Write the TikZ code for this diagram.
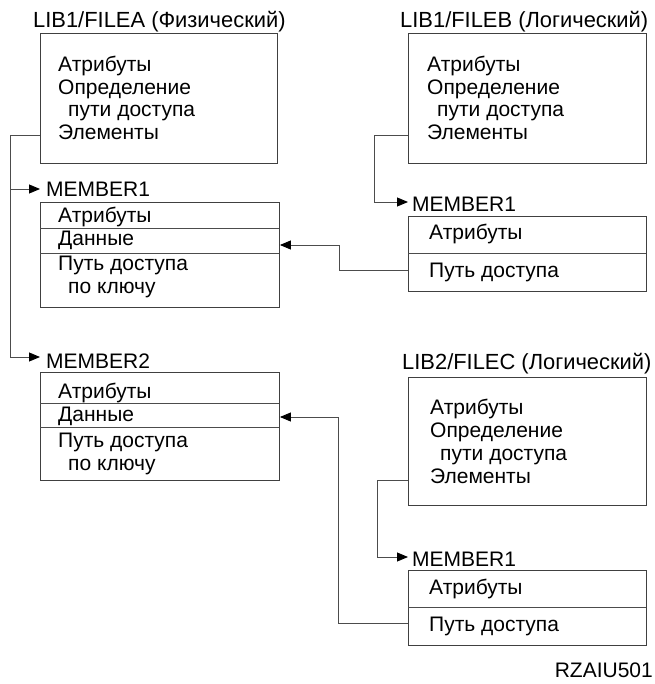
\documentclass[tikz,border=0pt]{standalone}
\usepackage{fontspec}
\setmainfont{Liberation Sans}
\usetikzlibrary{arrows.meta,calc}
\begin{document}
\begin{tikzpicture}[x=1pt,y=-1pt,
  box/.style={draw=black!75,line width=0.9pt,anchor=north west,inner sep=0pt},
  lbl/.style={anchor=base west,inner sep=0pt,font=\fontsize{21}{22}\selectfont},
  ttl/.style={anchor=base west,inner sep=0pt,font=\fontsize{21.9}{22}\selectfont},
  conn/.style={draw=black!70,line width=0.9pt},
  arr/.style={conn,-{Triangle[length=11pt,width=9pt,fill=black,color=black]}}]
\useasboundingbox (0,0) rectangle (654,684);
% ---- FILEA
\node[ttl] (tA) at (33,28) {LIB1/FILEA (Физический)};
\node[box,minimum width=237pt,minimum height=130pt] (A) at (40,33) {};
\node[lbl] (a1) at (58,72) {Атрибуты};
\node[lbl] (a2) at (58,94.5) {Определение};
\node[lbl] (a3) at (68,117) {пути доступа};
\node[lbl] (a4) at (58,140) {Элементы};
% ---- MEMBER1 of FILEA
\node[lbl] (mA1) at (46,197) {MEMBER1};
\node[box,minimum width=239pt,minimum height=105pt] (M1) at (40,202) {};
\draw[conn] (40,228) -- (279,228);
\draw[conn] (40,253) -- (279,253);
\node[lbl] (m1a) at (58,223) {Атрибуты};
\node[lbl] (m1b) at (58,246) {Данные};
\node[lbl] (m1c) at (58,270) {Путь доступа};
\node[lbl] (m1d) at (68,293) {по ключу};
% ---- MEMBER2 of FILEA
\node[lbl] (mA2) at (46,368) {MEMBER2};
\node[box,minimum width=239pt,minimum height=108pt] (M2) at (40,372) {};
\draw[conn] (40,403) -- (279,403);
\draw[conn] (40,427) -- (279,427);
\node[lbl] (m2a) at (58,398) {Атрибуты};
\node[lbl] (m2b) at (58,421.5) {Данные};
\node[lbl] (m2c) at (58,447) {Путь доступа};
\node[lbl] (m2d) at (68,470) {по ключу};
% ---- FILEB
\node[ttl] (tB) at (400,28) {LIB1/FILEB (Логический)};
\node[box,minimum width=238pt,minimum height=130pt] (B) at (408,33) {};
\node[lbl] (b1) at (427,72) {Атрибуты};
\node[lbl] (b2) at (427,94.5) {Определение};
\node[lbl] (b3) at (437,117) {пути доступа};
\node[lbl] (b4) at (427,140) {Элементы};
% ---- MEMBER1 of FILEB
\node[lbl] (mB) at (412,211.5) {MEMBER1};
\node[box,minimum width=238pt,minimum height=75pt] (MB) at (408,216) {};
\draw[conn] (408,253) -- (646,253);
\node[lbl] (mba) at (429,240) {Атрибуты};
\node[lbl] (mbb) at (429,277) {Путь доступа};
% ---- FILEC
\node[ttl] (tC) at (402,369) {LIB2/FILEC (Логический)};
\node[box,minimum width=238pt,minimum height=128pt] (C) at (408,377) {};
\node[lbl] (c1) at (430,414) {Атрибуты};
\node[lbl] (c2) at (430,437) {Определение};
\node[lbl] (c3) at (440,460) {пути доступа};
\node[lbl] (c4) at (430,483) {Элементы};
% ---- MEMBER1 of FILEC
\node[lbl] (mC) at (412,566.5) {MEMBER1};
\node[box,minimum width=238pt,minimum height=75pt] (MC) at (408,570) {};
\draw[conn] (408,607) -- (646,607);
\node[lbl] (mca) at (429,594) {Атрибуты};
\node[lbl] (mcb) at (429,631.5) {Путь доступа};
% ---- footer
\node[anchor=base east,inner sep=0pt,font=\fontsize{21}{22}\selectfont] (rz) at (653,677) {RZAIU501};
% ---- connectors
\coordinate (jA) at (10,135);
\draw[conn] (A.west |- 0,135) -- (jA) -- (10,357);
\draw[arr] (10,189) -- (M1.north west |- 0,189);
\draw[arr] (10,357) -- (M2.north west |- 0,357);
\draw[conn] (B.west |- 0,135) -- (374,135) -- (374,202);
\draw[arr] (374,202) -- (MB.north west |- 0,202);
\draw[arr] (MB.west |- 0,270) -- (339,270) -- (339,245) -- (M1.east |- 0,245);
\draw[conn] (C.west |- 0,480) -- (377,480) -- (377,557);
\draw[arr] (377,557) -- (MC.north west |- 0,557);
\draw[arr] (MC.west |- 0,623) -- (338,623) -- (338,417) -- (M2.east |- 0,417);
\end{tikzpicture}
\end{document}
